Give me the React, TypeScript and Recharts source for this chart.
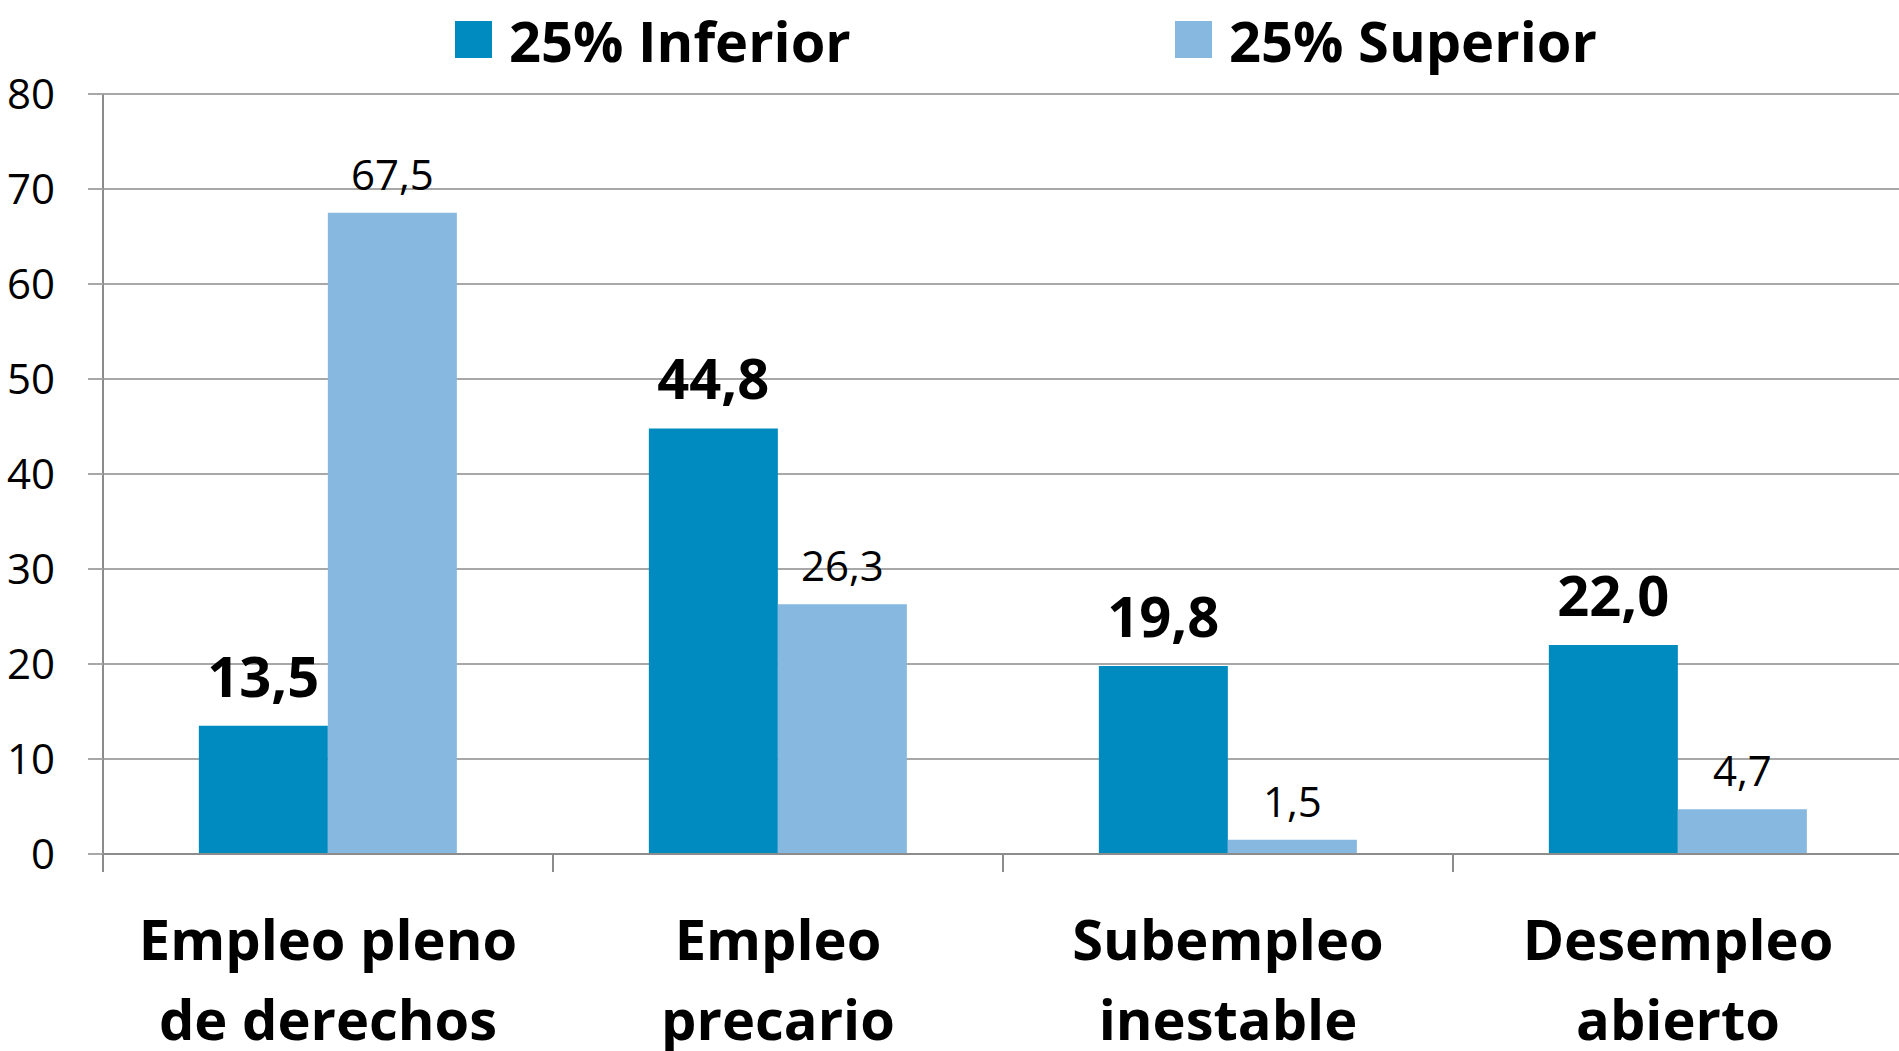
import { BarChart, Bar, XAxis, YAxis, CartesianGrid, Legend, LabelList } from "recharts";

const categoryLines = [
  ["Empleo pleno", "de derechos"],
  ["Empleo", "precario"],
  ["Subempleo", "inestable"],
  ["Desempleo", "abierto"],
];
const inferior = [13.5, 44.8, 19.8, 22.0];
const superior = [67.5, 26.3, 1.5, 4.7];
const yTicks = [0, 10, 20, 30, 40, 50, 60, 70, 80];
const seriesNames = ["25% Inferior", "25% Superior"];

const W = 1899;
const H = 1051;
const Y_AXIS_W = 103;
const RIGHT = -4;
const FONT = "'Open Sans', 'Noto Sans', sans-serif";
const DARK = "#008BC0";
const LIGHT = "#86B8E0";
const GRID = "#A8A8A8";
const AXIS = "#8C8C8C";

const data = categoryLines.map((lines, i) => ({
  name: lines.join(" "),
  inferior: inferior[i],
  superior: superior[i],
}));

const fmt = (v: any) => Number(v).toFixed(1).replace(".", ",");
const halfBand = (W - Y_AXIS_W - RIGHT) / categoryLines.length / 2;

function CategoryTick(props: any) {
  const { x, y, index } = props;
  const lines = categoryLines[index] || [];
  return (
    <g>
      <line x1={x - halfBand} x2={x - halfBand} y1={y} y2={y + 18} stroke={AXIS} strokeWidth={2} />
      {lines.map((t, i) => (
        <text
          key={i}
          x={x}
          y={y + 106 + i * 80}
          textAnchor="middle"
          fontFamily={FONT}
          fontWeight="bold"
          fontSize={56}
          fill="#000"
        >
          {t}
        </text>
      ))}
    </g>
  );
}

function renderLegend() {
  const items = [
    { name: seriesNames[0], color: DARK, left: 455 },
    { name: seriesNames[1], color: LIGHT, left: 1175 },
  ];
  return (
    <div style={{ position: "relative", width: W, height: 94 }}>
      {items.map((it) => (
        <div
          key={it.name}
          style={{
            position: "absolute",
            left: it.left,
            top: 21,
            height: 37,
            display: "flex",
            alignItems: "center",
          }}
        >
          <span style={{ width: 37, height: 37, background: it.color, display: "inline-block" }} />
          <span
            style={{
              marginLeft: 17,
              fontFamily: FONT,
              fontWeight: "bold",
              fontSize: 56,
              lineHeight: 1,
              color: "#000",
              whiteSpace: "nowrap",
            }}
          >
            {it.name}
          </span>
        </div>
      ))}
    </div>
  );
}

export default function App() {
  return (
    <div style={{ position: "absolute", left: 0, top: 0, width: W, height: H, background: "#fff", overflow: "hidden" }}>
      <BarChart
        width={W}
        height={H}
        data={data}
        margin={{ top: 0, right: RIGHT, bottom: 0, left: 0 }}
        barCategoryGap="21.3%"
        barGap={0}
      >
        <Legend
          verticalAlign="top"
          align="left"
          content={renderLegend}
          wrapperStyle={{ top: 0, left: 0, width: W, height: 94 }}
        />
        <CartesianGrid vertical={false} stroke={GRID} strokeWidth={2} />
        <XAxis
          dataKey="name"
          height={197}
          axisLine={{ stroke: AXIS, strokeWidth: 2 }}
          tickLine={false}
          tickSize={0}
          tickMargin={0}
          interval={0}
          tick={<CategoryTick />}
        />
        <YAxis
          width={Y_AXIS_W}
          domain={[0, 80]}
          ticks={yTicks}
          interval={0}
          axisLine={{ stroke: AXIS, strokeWidth: 2 }}
          tickLine={{ stroke: GRID, strokeWidth: 2 }}
          tickSize={15}
          tickMargin={33}
          tick={{ fontFamily: FONT, fontSize: 42, fill: "#000" }}
        />
        <Bar dataKey="inferior" fill={DARK} isAnimationActive={false}>
          <LabelList
            dataKey="inferior"
            position="top"
            offset={29}
            formatter={fmt}
            style={{ fontFamily: FONT, fontWeight: "bold", fontSize: 56, fill: "#000" }}
          />
        </Bar>
        <Bar dataKey="superior" fill={LIGHT} isAnimationActive={false}>
          <LabelList
            dataKey="superior"
            position="top"
            offset={23}
            formatter={fmt}
            style={{ fontFamily: FONT, fontSize: 42, fill: "#000" }}
          />
        </Bar>
      </BarChart>
    </div>
  );
}
